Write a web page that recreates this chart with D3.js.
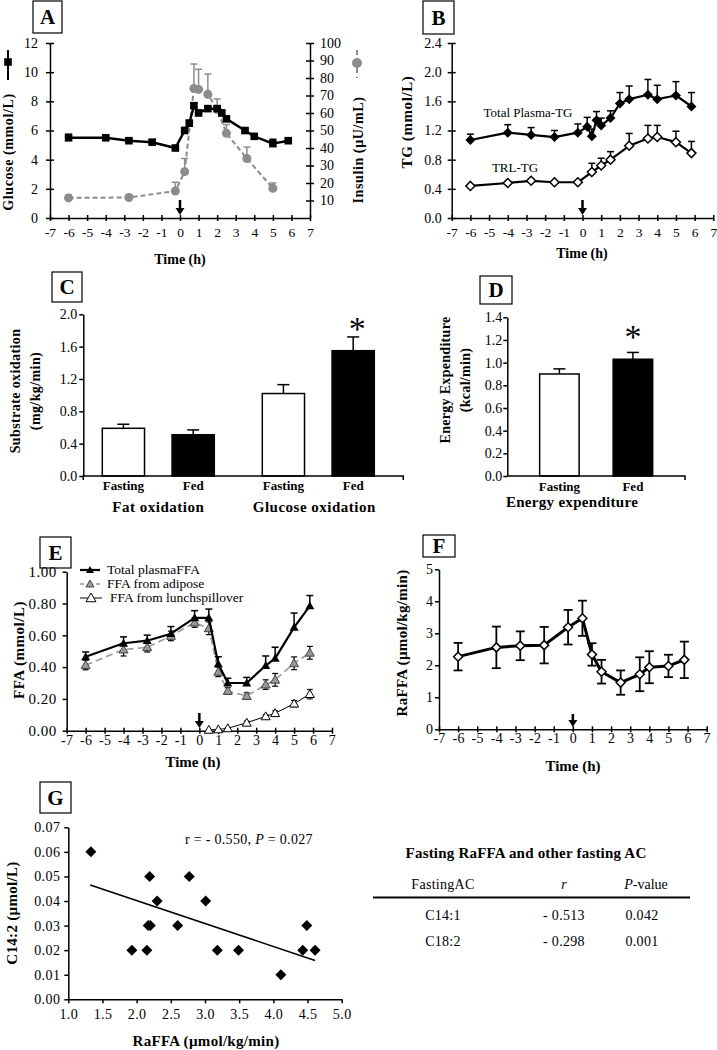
<!DOCTYPE html>
<html><head><meta charset="utf-8">
<script src="https://cdn.jsdelivr.net/npm/d3@7"></script>
<style>body{margin:0;background:#fff}svg text{font-family:"Liberation Serif","Times New Roman",serif;}</style>
</head><body><svg id="c" width="717" height="1050"></svg>
<script>
// ---------- DATA ----------
// Panel A
const glucoseTime=[-6,-4,-2.75,-1.5,-0.25,0.25,0.5,0.75,1,1.5,2,2.25,2.5,3.5,4,5,5.83];
const glucoseVal=[5.5,5.5,5.3,5.2,4.8,6.0,6.5,7.7,7.2,7.5,7.5,7.2,6.8,6.0,5.6,5.1,5.3];
const glucoseErr=[0.25,0.15,0.2,0.15,0.15,0.2,0.2,0.2,0.2,0.15,0.2,0.2,0.15,0.1,0.1,0.3,0.15];
const insulinTime=[-6,-2.75,-0.25,0.25,0.75,1,1.5,2,2.5,3.6,5];
const insulinVal=[11.5,11.7,15.4,26.5,74,73.5,70.7,62,48.4,34,17];
const insulinErr=[1.5,1.5,5,7.5,14,11.5,11.6,6,5,6.5,3];
// Panel B
const tgTime=[-6,-4,-2.75,-1.5,-0.25,0.25,0.5,0.75,1,1.5,2,2.5,3.5,4,5,5.83];
const totalTG=[1.07,1.17,1.14,1.11,1.17,1.25,1.12,1.34,1.27,1.37,1.57,1.63,1.69,1.63,1.68,1.53];
const totalTGErr=[0.08,0.11,0.1,0.09,0.12,0.13,0.1,0.12,0.1,0.1,0.15,0.18,0.21,0.19,0.19,0.19];
const trlTime=[-6,-4,-2.75,-1.5,-0.25,0.5,1,1.5,2.5,3.5,4,5,5.83];
const trlTG=[0.44,0.48,0.51,0.49,0.49,0.63,0.72,0.80,0.99,1.09,1.11,1.04,0.89];
const trlTGErr=[0.02,0.02,0.02,0.02,0.02,0.12,0.1,0.11,0.17,0.18,0.16,0.15,0.16];
// Panel C
const oxGroups=["Fat oxidation","Glucose oxidation"];
const oxConds=["Fasting","Fed"];
const fatOx=[0.59,0.51], fatOxErr=[0.05,0.06];
const gluOx=[1.02,1.55], gluOxErr=[0.11,0.17];
const oxSignif=[[false,false],[false,true]];
// Panel D
const eeConds=["Fasting","Fed"];
const eeVal=[0.90,1.03], eeErr=[0.045,0.06];
const eeSignif=[false,true];
// Panel E
const ffaTime=[-6,-4,-2.75,-1.5,-0.25,0.5,1,1.5,2.5,3.5,4,5,5.83];
const totalFFA=[0.465,0.55,0.566,0.61,0.71,0.71,0.42,0.30,0.30,0.41,0.455,0.65,0.785];
const totalFFAErr=[0.03,0.04,0.035,0.045,0.045,0.055,0.045,0.03,0.035,0.06,0.07,0.09,0.065];
const adiposeFFA=[0.413,0.51,0.525,0.596,0.68,0.644,0.37,0.25,0.218,0.29,0.32,0.424,0.49];
const adiposeFFAErr=[0.03,0.04,0.03,0.03,0.03,0.04,0.03,0.02,0.02,0.03,0.04,0.04,0.04];
const lunchTime=[0.5,1,1.5,2.5,3.5,4,5,5.83];
const lunchFFA=[0.005,0.008,0.015,0.05,0.09,0.11,0.17,0.23];
const lunchFFAErr=[0,0,0.005,0.01,0.01,0.015,0.02,0.03];
const ffaLegend=["Total plasmaFFA","FFA from adipose","FFA from lunchspillover"];
// Panel F
const raTime=[-6,-4,-2.75,-1.5,-0.25,0.5,1,1.5,2.5,3.5,4,5,5.83];
const raFFA=[2.27,2.56,2.61,2.63,3.19,3.47,2.34,1.8,1.46,1.72,1.94,1.98,2.17];
const raFFAErr=[0.43,0.65,0.45,0.57,0.54,0.55,0.35,0.37,0.38,0.53,0.5,0.35,0.57];
// Panel G
const gRa=[1.33,1.93,2.15,2.17,2.2,2.19,2.3,2.6,2.77,3.01,3.18,3.49,4.11,4.43,4.49,4.61];
const gC142=[0.06,0.02,0.02,0.03,0.03,0.05,0.04,0.03,0.05,0.04,0.02,0.02,0.01,0.02,0.03,0.02];
const trendRa=[1.32,4.61], trendC142=[0.0465,0.0158];
// Table
const tableHead=["FastingAC","r","P-value"];
const tableAC=["C14:1","C18:2"], tableR=["- 0.513","- 0.298"], tableP=["0.042","0.001"];
// Ticks
const timeTicks=d3.range(-7,8,1);
const hyphenInt=d=>(d<0?"-":"")+Math.abs(d);

// ---------- HELPERS ----------
const svg=d3.select("#c");
svg.append("rect").attr("width",717).attr("height",1050).attr("fill","#fff");
const FONT='"Liberation Serif","Times New Roman",serif';

function styleAxis(ag,fs){
  ag.attr("font-family",FONT).attr("font-size",fs||13);
  ag.select(".domain").attr("stroke","#000").attr("stroke-width",1.5);
  ag.selectAll(".tick text").attr("fill","#000");
}
function yAxis(scale,x,ticks,fmt,o){
  const ax=(o.right?d3.axisRight:d3.axisLeft)(scale).tickValues(ticks).tickFormat(fmt).tickSize(0).tickSizeOuter(0).tickPadding(o.pad);
  const ag=svg.append("g").attr("transform",`translate(${x},0)`).call(ax);
  styleAxis(ag,o.fs);
  ag.selectAll(".tick line").attr("x1",o.t0).attr("x2",o.t1).attr("stroke","#000").attr("stroke-width",1.5);
  if(o.ls) ag.selectAll(".tick text").attr("letter-spacing",o.ls);
  return ag;
}
function xAxis(scale,y,ticks,fmt,o){
  const ax=d3.axisBottom(scale).tickValues(ticks).tickFormat(fmt).tickSize(0).tickSizeOuter(0).tickPadding(o.pad);
  const ag=svg.append("g").attr("transform",`translate(0,${y})`).call(ax);
  styleAxis(ag,o.fs);
  ag.selectAll(".tick line").attr("y1",o.t0).attr("y2",o.t1).attr("stroke","#000").attr("stroke-width",1.5);
  if(o.ls) ag.selectAll(".tick text").attr("letter-spacing",o.ls);
  return ag;
}
function label(x,y,txt,o={}){
  const t=svg.append("text").attr("x",x).attr("y",y).text(txt)
    .attr("font-size",o.fs||14).attr("font-weight",o.bold===false?"normal":"bold")
    .attr("text-anchor",o.anchor||"middle").attr("fill","#000");
  if(o.rot) t.attr("transform",`rotate(-90,${x},${y})`);
  if(o.ls) t.attr("letter-spacing",o.ls);
  return t;
}
function panelBox(x,y,w,h,letter){
  svg.append("rect").attr("x",x).attr("y",y).attr("width",w).attr("height",h).attr("fill","#fff").attr("stroke","#000").attr("stroke-width",1.2);
  svg.append("text").attr("x",x+w/2).attr("y",y+h/2+7).attr("text-anchor","middle").attr("font-size",21).attr("font-weight","bold").text(letter);
}
function arrow(x,y0,y1){
  svg.append("line").attr("x1",x).attr("x2",x).attr("y1",y0).attr("y2",y1-5).attr("stroke","#000").attr("stroke-width",2.5);
  svg.append("path").attr("d",`M${x-4.5},${y1-7}L${x+4.5},${y1-7}L${x},${y1}Z`).attr("fill","#000");
}
function errBars(xs,ys,es,xS,yS,o){
  const g=svg.append("g").attr("stroke",o.color||"#000").attr("stroke-width",o.w||1.5);
  xs.forEach((t,i)=>{
    if(!es[i]) return;
    const x=xS(t), y=yS(ys[i]), yt=yS(ys[i]+es[i]), yb=yS(ys[i]-es[i]);
    const cw=o.cap||3;
    g.append("line").attr("x1",x).attr("x2",x).attr("y1",o.up?y:yb).attr("y2",yt);
    g.append("line").attr("x1",x-cw).attr("x2",x+cw).attr("y1",yt).attr("y2",yt);
    if(!o.up) g.append("line").attr("x1",x-cw).attr("x2",x+cw).attr("y1",yb).attr("y2",yb);
  });
}
function seriesLine(xs,ys,xS,yS,o){
  svg.append("path").datum(xs.map((t,i)=>[t,ys[i]]))
    .attr("d",d3.line().x(d=>xS(d[0])).y(d=>yS(d[1])))
    .attr("fill","none").attr("stroke",o.color||"#000").attr("stroke-width",o.w||2)
    .attr("stroke-dasharray",o.dash||null).attr("stroke-linejoin","round");
}
const shapes={
  square:r=>`M${-r},${-r}H${r}V${r}H${-r}Z`,
  diamond:r=>`M0,${-r}L${r},0L0,${r}L${-r},0Z`,
  triangle:r=>`M0,${-r}L${r},${r*0.75}L${-r},${r*0.75}Z`,
  circle:r=>`M${-r},0A${r},${r} 0 1,0 ${r},0A${r},${r} 0 1,0 ${-r},0Z`
};
function markers(xs,ys,xS,yS,o){
  svg.append("g").selectAll("path").data(xs).join("path")
    .attr("transform",(t,i)=>`translate(${xS(t)},${yS(ys[i])})`)
    .attr("d",shapes[o.shape](o.r))
    .attr("fill",o.fill).attr("stroke",o.stroke||"none").attr("stroke-width",o.sw||1.2);
}

// ---------- PANEL A ----------
const xA=d3.scaleLinear([-7,7],[50,310]);
const yA=d3.scaleLinear([0,12],[218,43]);
const yA2=d3.scaleLinear([0,100],[218,43]);
panelBox(33,1,29,32,"A");
yAxis(yA,50,d3.range(0,13,2),d3.format("d"),{pad:12,t0:-4,t1:4,fs:14});
yAxis(yA2,310,d3.range(10,101,10),d3.format("d"),{right:true,pad:10,t0:-4,t1:4,fs:14});
xAxis(xA,218,timeTicks,hyphenInt,{pad:9,t0:-3,t1:3,fs:13.5});
label(180,264,"Time (h)");
// insulin
seriesLine(insulinTime,insulinVal,xA,yA2,{color:"#8c8c8c",w:2,dash:"5,3"});
errBars(insulinTime,insulinVal,insulinErr,xA,yA2,{color:"#8c8c8c",up:true,w:1.5,cap:3.5});
markers(insulinTime,insulinVal,xA,yA2,{shape:"circle",r:4.5,fill:"#8c8c8c"});
// glucose
errBars(glucoseTime,glucoseVal,glucoseErr,xA,yA,{up:true,w:1.5,cap:3.5});
seriesLine(glucoseTime,glucoseVal,xA,yA,{w:2.5});
markers(glucoseTime,glucoseVal,xA,yA,{shape:"square",r:3.8,fill:"#000"});
arrow(xA(0),200,215);
// axis titles with legend symbols
label(13,152,"Glucose (mmol/L)",{rot:true,fs:14,ls:0.6});
svg.append("line").attr("x1",8).attr("x2",8).attr("y1",50).attr("y2",80).attr("stroke","#000").attr("stroke-width",2);
svg.append("path").attr("transform","translate(8,62)").attr("d",shapes.square(3.8)).attr("fill","#000");
label(363,150,"Insulin (µU/mL)",{rot:true,fs:14,ls:0.6});
svg.append("line").attr("x1",357).attr("x2",357).attr("y1",50).attr("y2",78).attr("stroke","#8c8c8c").attr("stroke-width",2).attr("stroke-dasharray","5,4");
svg.append("path").attr("transform","translate(357,63)").attr("d",shapes.circle(5)).attr("fill","#8c8c8c");

// ---------- PANEL B ----------
const xB=d3.scaleLinear([-7,7],[451.7,713.3]);
const yB=d3.scaleLinear([0,2.4],[218,43]);
panelBox(423,1,31,33,"B");
yAxis(yB,451.7,d3.range(0,2.41,0.4),d3.format(".1f"),{pad:10,t0:-4,t1:4,fs:14});
xAxis(xB,218,timeTicks,hyphenInt,{pad:9,t0:-3,t1:3,fs:13.5});
label(582,258,"Time (h)");
label(412,122,"TG (mmol/L)",{rot:true,fs:15,ls:0.6});
errBars(tgTime,totalTG,totalTGErr,xB,yB,{up:true,w:1.5,cap:3.5});
seriesLine(tgTime,totalTG,xB,yB,{w:2.2});
markers(tgTime,totalTG,xB,yB,{shape:"diamond",r:5,fill:"#000"});
errBars(trlTime,trlTG,trlTGErr,xB,yB,{up:true,w:1.5,cap:3.5});
seriesLine(trlTime,trlTG,xB,yB,{w:2.2});
markers(trlTime,trlTG,xB,yB,{shape:"diamond",r:4.5,fill:"#fff",stroke:"#000",sw:1.5});
label(528,117,"Total Plasma-TG",{bold:false,fs:13});
label(515,172,"TRL-TG",{bold:false,fs:13});
arrow(xB(0),200,215);

// ---------- PANEL C ----------
const yC=d3.scaleLinear([0,2],[476,314.3]);
const xC=d3.scaleBand(oxGroups,[83.3,403.3]);
const xCin=d3.scaleBand(oxConds,[19,131]).paddingInner(0.395);
panelBox(52,272,30,30,"C");
const oxVals=[fatOx,gluOx], oxErrs=[fatOxErr,gluOxErr];
oxGroups.forEach((grp,gi)=>{
  oxConds.forEach((c,ci)=>{
    const x0=xC(grp)+xCin(c), w=xCin.bandwidth(), v=oxVals[gi][ci], e=oxErrs[gi][ci];
    const cx=x0+w/2;
    svg.append("line").attr("x1",cx).attr("x2",cx).attr("y1",yC(v)).attr("y2",yC(v+e)).attr("stroke","#000").attr("stroke-width",1.5);
    svg.append("line").attr("x1",cx-6).attr("x2",cx+6).attr("y1",yC(v+e)).attr("y2",yC(v+e)).attr("stroke","#000").attr("stroke-width",1.5);
    svg.append("rect").attr("x",x0).attr("y",yC(v)).attr("width",w).attr("height",yC(0)-yC(v))
      .attr("fill",ci===0?"#fff":"#000").attr("stroke","#000").attr("stroke-width",1.5);
    label(cx,490,c,{fs:13});
    if(oxSignif[gi][ci]) label(cx+4,yC(v+e)+3,"*",{bold:false,fs:34});
  });
  label(xC(grp)+xC.bandwidth()/2-(gi===0?5:9),512,grp,{fs:15,ls:0.5});
});
yAxis(yC,83.3,d3.range(0,2.01,0.4),d3.format(".1f"),{pad:6,t0:-4,t1:0,fs:14});
svg.append("path").attr("d",`M83.3,480V476H403.3V480`).attr("fill","none").attr("stroke","#000").attr("stroke-width",1.5);
label(20,391,"Substrate oxidation",{rot:true,fs:14,ls:0.4});
label(40,391,"(mg/kg/min)",{rot:true,fs:14,ls:0.4});

// ---------- PANEL D ----------
const yD=d3.scaleLinear([0,1.4],[476,317.3]);
const xD=d3.scaleBand(eeConds,[507.3,685]).paddingInner(0.463).paddingOuter(0.44);
panelBox(480,276,32,28,"D");
eeConds.forEach((c,i)=>{
  const x0=xD(c), w=xD.bandwidth(), v=eeVal[i], e=eeErr[i], cx=x0+w/2;
  svg.append("line").attr("x1",cx).attr("x2",cx).attr("y1",yD(v)).attr("y2",yD(v+e)).attr("stroke","#000").attr("stroke-width",1.5);
  svg.append("line").attr("x1",cx-6).attr("x2",cx+6).attr("y1",yD(v+e)).attr("y2",yD(v+e)).attr("stroke","#000").attr("stroke-width",1.5);
  svg.append("rect").attr("x",x0).attr("y",yD(v)).attr("width",w).attr("height",yD(0)-yD(v))
    .attr("fill",i===0?"#fff":"#000").attr("stroke","#000").attr("stroke-width",1.5);
  label(cx,491,c,{fs:13});
  if(eeSignif[i]) label(cx,yD(v+e)-4,"*",{bold:false,fs:34});
});
yAxis(yD,507.3,d3.range(0,1.41,0.2),d3.format(".1f"),{pad:5,t0:-4,t1:0,fs:14});
svg.append("path").attr("d",`M507.3,476H685V480`).attr("fill","none").attr("stroke","#000").attr("stroke-width",1.5);
label(572,507,"Energy expenditure",{fs:15,ls:0.3});
label(450,380,"Energy Expenditure",{rot:true,fs:14,ls:0.3});
label(470,380,"(kcal/min)",{rot:true,fs:14,ls:0.3});

// ---------- PANEL E ----------
const xE=d3.scaleLinear([-7,7],[66.7,332]);
const yE=d3.scaleLinear([0,1],[730.7,571.7]);
panelBox(40,537,31,31,"E");
yAxis(yE,66.7,d3.range(0,1.01,0.2),d3.format(".2f"),{pad:10,t0:-4,t1:0,fs:15,ls:0.5});
xAxis(xE,730.7,timeTicks,hyphenInt,{pad:4,t0:-3,t1:3,fs:14,ls:0.3});
label(193,767,"Time (h)",{fs:15});
label(24,650,"FFA (mmol/L)",{rot:true,fs:15,ls:0.5});
// lunch spillover
errBars(lunchTime,lunchFFA,lunchFFAErr,xE,yE,{w:1,cap:3});
seriesLine(lunchTime,lunchFFA,xE,yE,{w:1});
markers(lunchTime,lunchFFA,xE,yE,{shape:"triangle",r:4.5,fill:"#fff",stroke:"#000",sw:1});
// adipose
errBars(ffaTime,adiposeFFA,adiposeFFAErr,xE,yE,{w:1.2,cap:3});
seriesLine(ffaTime,adiposeFFA,xE,yE,{color:"#999",w:1.6,dash:"7,4"});
markers(ffaTime,adiposeFFA,xE,yE,{shape:"triangle",r:4.5,fill:"#999",stroke:"#444",sw:1});
// total
errBars(ffaTime,totalFFA,totalFFAErr,xE,yE,{w:1.5,cap:3.5,up:true});
seriesLine(ffaTime,totalFFA,xE,yE,{w:2.2});
markers(ffaTime,totalFFA,xE,yE,{shape:"triangle",r:4.5,fill:"#000"});
arrow(xE(0),713,728);
// legend
const legY=[570,584,598];
svg.append("line").attr("x1",80).attr("x2",100).attr("y1",legY[0]).attr("y2",legY[0]).attr("stroke","#000").attr("stroke-width",2.2);
svg.append("path").attr("transform",`translate(90,${legY[0]})`).attr("d",shapes.triangle(4)).attr("fill","#000");
svg.append("line").attr("x1",80).attr("x2",100).attr("y1",legY[1]).attr("y2",legY[1]).attr("stroke","#999").attr("stroke-width",1.6).attr("stroke-dasharray","4,4");
svg.append("path").attr("transform",`translate(90,${legY[1]})`).attr("d",shapes.triangle(4)).attr("fill","#999").attr("stroke","#444");
svg.append("line").attr("x1",80).attr("x2",102).attr("y1",legY[2]).attr("y2",legY[2]).attr("stroke","#000").attr("stroke-width",1);
svg.append("path").attr("transform",`translate(91,${legY[2]})`).attr("d",shapes.triangle(5)).attr("fill","#fff").attr("stroke","#000");
ffaLegend.forEach((t,i)=>label(i===2?110:107,legY[i]+4,t,{bold:false,fs:13.5,anchor:"start"}));

// ---------- PANEL F ----------
const xF=d3.scaleLinear([-7,7],[439,706.7]);
const yF=d3.scaleLinear([0,5],[729.3,569.3]);
panelBox(423,535,32,22,"F");
yAxis(yF,439,d3.range(0,6,1),d3.format("d"),{pad:6,t0:-4,t1:0,fs:14});
xAxis(xF,729.3,timeTicks,hyphenInt,{pad:4,t0:-3,t1:3,fs:14,ls:0.3});
label(573,771,"Time (h)",{fs:15});
label(407,643,"RaFFA (µmol/kg/min)",{rot:true,fs:15,ls:0.3});
errBars(raTime,raFFA,raFFAErr,xF,yF,{w:1.8,cap:4.5});
seriesLine(raTime,raFFA,xF,yF,{w:3});
markers(raTime,raFFA,xF,yF,{shape:"diamond",r:4.5,fill:"#fff",stroke:"#000",sw:1.5});
arrow(xF(0),714,727);

// ---------- PANEL G ----------
const xG=d3.scaleLinear([1,5],[68.3,341.7]);
const yG=d3.scaleLinear([0,0.07],[999.3,827.3]);
panelBox(40,782,31,31,"G");
yAxis(yG,68.3,d3.range(0,0.0701,0.01),d3.format(".2f"),{pad:8,t0:-4,t1:0,fs:14,ls:0.4});
xAxis(xG,999.3,d3.range(1,5.01,0.5),d3.format(".1f"),{pad:10,t0:0,t1:4,fs:14,ls:0.4});
label(206,1046,"RaFFA (µmol/kg/min)",{fs:15,ls:0.3});
label(17,913,"C14:2 (µmol/L)",{rot:true,fs:15,ls:0.3});
svg.append("path").datum(trendRa.map((t,i)=>[t,trendC142[i]]))
  .attr("d",d3.line().x(d=>xG(d[0])).y(d=>yG(d[1]))).attr("stroke","#000").attr("stroke-width",1.6).attr("fill","none");
markers(gRa,gC142,xG,yG,{shape:"diamond",r:5.5,fill:"#000"});
const rt=svg.append("text").attr("x",185).attr("y",844).attr("font-size",14).attr("letter-spacing",0.3);
rt.append("tspan").text("r = - 0.550, ");
rt.append("tspan").attr("font-style","italic").text("P");
rt.append("tspan").text(" = 0.027");

// ---------- TABLE ----------
label(526,858,"Fasting RaFFA and other fasting AC",{fs:15,ls:0.2});
const colX=[443,564,646];
label(colX[0],889,tableHead[0],{bold:false,fs:14,ls:0.3});
label(colX[1],889,tableHead[1],{bold:false,fs:14}).attr("font-style","italic");
const pv=svg.append("text").attr("x",colX[2]).attr("y",889).attr("text-anchor","middle").attr("font-size",14);
pv.append("tspan").attr("font-style","italic").text("P");
pv.append("tspan").text(tableHead[2].slice(1));
svg.append("line").attr("x1",373).attr("x2",690).attr("y1",897.5).attr("y2",897.5).attr("stroke","#000").attr("stroke-width",2);
tableAC.forEach((ac,i)=>{
  const y=920+i*26;
  label(colX[0],y,ac,{bold:false,fs:14,ls:0.3});
  label(colX[1],y,tableR[i],{bold:false,fs:14,ls:0.3});
  label(colX[2]-4,y,tableP[i],{bold:false,fs:14,ls:0.3});
});
</script></body></html>
